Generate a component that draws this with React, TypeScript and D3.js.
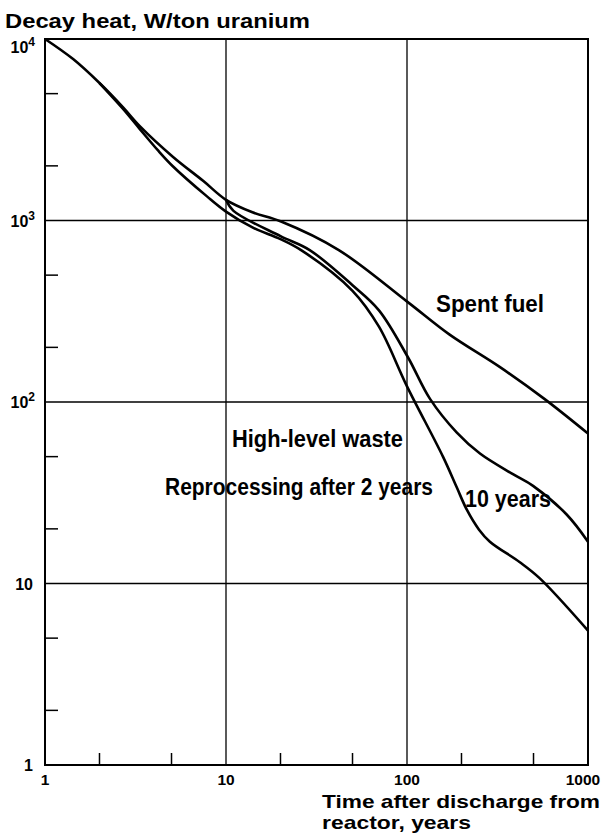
import React, { useEffect, useRef } from 'react';
import * as d3 from 'd3';

// values (years after discharge, W/ton U)
const spentYears = [1, 1.43, 2, 2.7, 3.35, 5.1, 7.5, 10, 14, 20, 42, 101, 172, 325, 574, 1000];
const spentHeat = [10000, 7750, 5720, 4200, 3300, 2240, 1650, 1300, 1110, 990, 687, 355, 235, 156, 104, 67];

const tenYears = [10, 11, 20, 29, 50, 70, 101, 134, 188, 253, 385, 497, 762, 1000];
const tenHeat = [1300, 1130, 820, 687, 440, 320, 177, 104, 68, 52, 40, 34.5, 24, 17];

const twoYears = [2, 2.7, 3.35, 4.2, 5.1, 7.85, 10, 14, 20, 26, 50, 70, 100, 158, 188, 214, 250, 287, 420, 540, 1000];
const twoHeat = [5720, 4120, 3180, 2440, 1985, 1358, 1120, 916, 790, 687, 410, 260, 122, 50, 34, 25.5, 19.8, 17, 13.1, 10.7, 5.5];

const xMajor = [1, 10, 100, 1000];
const xMinor = [2, 5, 20, 50, 200, 500];
const yMajor = [1, 10, 100, 1000, 10000];
const yMinor = [2, 5, 20, 50, 200, 500, 2000, 5000];
const yLabels = [
  { v: 10000, base: '10', sup: '4' },
  { v: 1000, base: '10', sup: '3' },
  { v: 100, base: '10', sup: '2' },
  { v: 10, base: '10', sup: '' },
  { v: 1, base: '1', sup: '' },
];

const FONT = '"Liberation Sans", Arial, Helvetica, sans-serif';

export default function App() {
  const ref = useRef<SVGSVGElement>(null);

  useEffect(() => {
    const svg = d3.select(ref.current);
    svg.selectAll('*').remove();

    const left = 45, right = 588, top = 39, bottom = 765;
    const x = d3.scaleLog().domain([1, 1000]).range([left, right]);
    const y = d3.scaleLog().domain([1, 10000]).range([bottom, top]);

    const g = svg.append('g').attr('font-family', FONT).attr('font-weight', 'bold');

    // grid at the decades
    g.selectAll('.vgrid').data(xMajor.slice(1, -1)).enter().append('line')
      .attr('x1', d => x(d)).attr('x2', d => x(d))
      .attr('y1', top).attr('y2', bottom)
      .attr('stroke', '#000').attr('stroke-width', 1.3);
    g.selectAll('.hgrid').data(yMajor.slice(1, -1)).enter().append('line')
      .attr('x1', left).attr('x2', right)
      .attr('y1', d => y(d)).attr('y2', d => y(d))
      .attr('stroke', '#000').attr('stroke-width', 1.3);

    // inner ticks
    g.selectAll('.xtick').data(xMinor).enter().append('line')
      .attr('x1', d => x(d)).attr('x2', d => x(d))
      .attr('y1', bottom).attr('y2', bottom - 12)
      .attr('stroke', '#000').attr('stroke-width', 1.5);
    g.selectAll('.ytick').data(yMinor).enter().append('line')
      .attr('x1', left).attr('x2', left + 13)
      .attr('y1', d => y(d)).attr('y2', d => y(d))
      .attr('stroke', '#000').attr('stroke-width', 1.5);

    // frame
    g.append('rect')
      .attr('x', left).attr('y', top)
      .attr('width', right - left).attr('height', bottom - top)
      .attr('fill', 'none').attr('stroke', '#000').attr('stroke-width', 2);

    // curves
    const line = d3.line<[number, number]>()
      .x(d => x(d[0]))
      .y(d => y(d[1]))
      .curve(d3.curveCatmullRom.alpha(0.5));

    const series = [
      d3.zip(spentYears, spentHeat),
      d3.zip(tenYears, tenHeat),
      d3.zip(twoYears, twoHeat),
    ] as [number, number][][];

    g.selectAll('.curve').data(series).enter().append('path')
      .attr('d', d => line(d))
      .attr('fill', 'none')
      .attr('stroke', '#000')
      .attr('stroke-width', 2.6);

    // axis labels
    g.selectAll('.xlab').data(xMajor).enter().append('text')
      .attr('x', d => Math.min(x(d), 583))
      .attr('y', bottom + 20)
      .attr('text-anchor', 'middle')
      .attr('font-size', 15.5)
      .text(d => d);

    const yl = g.selectAll('.ylab').data(yLabels).enter().append('text')
      .attr('x', d => (d.sup ? 35 : 33))
      .attr('y', d => (d.v === 10000 ? y(d.v) + 14 : y(d.v) + 6))
      .attr('text-anchor', 'end')
      .attr('font-size', 16);
    yl.append('tspan').text(d => d.base);
    yl.filter(d => d.sup !== '').append('tspan')
      .attr('dy', -7).attr('font-size', 12)
      .text(d => d.sup);

    g.append('text').attr('x', 5).attr('y', 28)
      .attr('font-size', 21).attr('textLength', 305).attr('lengthAdjust', 'spacingAndGlyphs')
      .text('Decay heat, W/ton uranium');

    g.append('text').attr('x', 322).attr('y', 808)
      .attr('font-size', 19).attr('textLength', 278).attr('lengthAdjust', 'spacingAndGlyphs')
      .text('Time after discharge from');
    g.append('text').attr('x', 322).attr('y', 829)
      .attr('font-size', 19).attr('textLength', 149).attr('lengthAdjust', 'spacingAndGlyphs')
      .text('reactor, years');

    // curve labels
    const notes = [
      { t: 'Spent fuel', x: 436, y: 312, w: 108 },
      { t: 'High-level waste', x: 232, y: 447, w: 171 },
      { t: 'Reprocessing after 2 years', x: 165, y: 495, w: 268 },
      { t: '10 years', x: 465, y: 507, w: 86 },
    ];
    g.selectAll('.note').data(notes).enter().append('text')
      .attr('x', d => d.x).attr('y', d => d.y)
      .attr('font-size', 23)
      .attr('textLength', d => d.w).attr('lengthAdjust', 'spacingAndGlyphs')
      .text(d => d.t);
  }, []);

  return (
    <svg ref={ref} width={601} height={834}
      style={{ position: 'absolute', left: 0, top: 0, background: '#fff' }} />
  );
}
